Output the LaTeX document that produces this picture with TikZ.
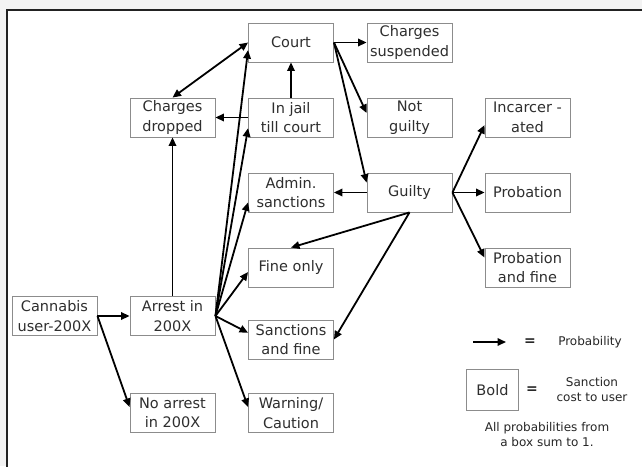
\documentclass[tikz,border=0pt]{standalone}
\usepackage{fontspec}
\setmainfont{DejaVu Sans}
\usepackage{tikz}
\usetikzlibrary{arrows.meta, positioning}
\usepackage{xcolor}
\definecolor{frame-bg}{HTML}{F3F3F3}
\definecolor{frame-line}{HTML}{222222}
\definecolor{box-line}{HTML}{8C8C8C}
\definecolor{box-text}{HTML}{2E2E2E}
\newcommand{\stagebox}[4]{%  \stagebox{name}{x}{y}{text}
  \node[stage] (#1) at (#2,#3) {#4};}

\begin{document}
\begin{tikzpicture}[x=1pt, y=-1pt,
    stage/.style={draw=box-line, line width=0.9pt, fill=white, text=box-text,
      minimum width=85pt, minimum height=39pt, inner sep=0pt, align=center,
      font=\fontsize{14.5}{19.5}\selectfont},
    prob/.style={-{Triangle[length=8.5pt, width=7.5pt]}, line width=1.8pt},
    note/.style={text=black!85, align=center, font=\fontsize{12}{15}\selectfont}]
    \useasboundingbox (0,0) rectangle (642,466);
    \fill[frame-bg] (0,0) rectangle (642,466);
    \fill[white] (7,10) rectangle (650,470);
    \draw[frame-line, line width=1.6pt] (7,470) -- (7,10) -- (650,10);
    % ── Column 1-2: user, arrest
    \stagebox{user}{54.5}{316}{Cannabis\\user-200X}
    \stagebox{arrest}{172.5}{316}{Arrest in\\200X}
    \stagebox{noarr}{172.5}{413}{No arrest\\in 200X}
    \stagebox{dropped}{172.5}{117.5}{Charges\\dropped}
    % ── Column 3: outcomes of arrest
    \stagebox{court}{291}{42.5}{Court}
    \stagebox{jail}{291}{117.5}{In jail\\till court}
    \stagebox{admin}{291}{192.5}{Admin.\\sanctions}
    \stagebox{fine}{291}{267.5}{Fine only}
    \stagebox{sanc}{291}{339.5}{Sanctions\\and fine}
    \stagebox{warn}{291}{413}{Warning/\\Caution}
    % ── Column 4-5: court and verdict
    \stagebox{susp}{409.5}{42.5}{Charges\\suspended}
    \stagebox{notg}{409.5}{117.5}{Not\\guilty}
    \stagebox{guilty}{409.5}{192.5}{Guilty}
    \stagebox{inc}{527.5}{117.5}{Incarcer -\\ated}
    \stagebox{probat}{527.5}{192.5}{Probation}
    \stagebox{probf}{527.5}{267.5}{Probation\\and fine}
    % ── Arrows
    \draw[prob] (user.east) -- (arrest.west);
    \draw[prob] (user.east) -- (noarr.172);
    \draw[prob] (arrest.north) -- (dropped.south);
    \draw[prob] (arrest.east) -- (court.190);
    \draw[prob] (arrest.east) -- (jail.194);
    \draw[prob] (arrest.east) -- (admin.193);
    \draw[prob] (arrest.east) -- (fine.186);
    \draw[prob] (arrest.east) -- (sanc.171);
    \draw[prob] (arrest.east) -- (warn.172);
    \draw[prob] (jail.north) -- (court.south);
    \draw[prob] (jail.west) -- (dropped.east);
    \draw[prob, {Triangle[length=8.5pt, width=7.5pt]}-{Triangle[length=8.5pt, width=7.5pt]}]
          (dropped.north) -- (court.west);
    \draw[prob] (court.east) -- (susp.west);
    \draw[prob] (court.east) -- (notg.174);
    \draw[prob] (court.east) -- (guilty.167);
    \draw[prob] (guilty.west) -- (admin.east);
    \draw[prob] (guilty.south) -- (fine.north);
    \draw[prob] (guilty.south) -- (sanc.east);
    \draw[prob] (guilty.east) -- (inc.190);
    \draw[prob] (guilty.east) -- (probat.west);
    \draw[prob] (guilty.east) -- (probf.167);
    % ── Legend
    \coordinate (keyA) at (473,342);
    \coordinate (keyB) at (506,342);
    \draw[prob] (keyA) -- (keyB);
    \node[note, font=\bfseries\fontsize{14}{14}\selectfont] (eqA) at (530,342) {=};
    \node[note] (keyP) at (590,342) {Probability};
    \node[stage, minimum width=52pt, minimum height=41pt] (bold) at (492.5,390) {Bold};
    \node[note, font=\bfseries\fontsize{14}{14}\selectfont] (eqB) at (532,390) {=};
    \node[note] (keyS) at (592,390) {Sanction\\cost to user};
    \node[note] (keyT) at (547,435) {All probabilities from\\a box sum to 1.};
\end{tikzpicture}
\end{document}
